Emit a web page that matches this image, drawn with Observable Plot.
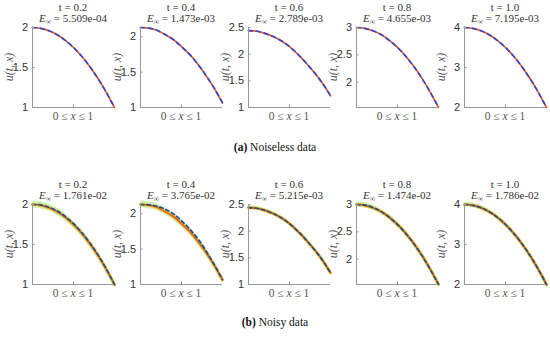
<!DOCTYPE html>
<html><head><meta charset="utf-8">
<script src="https://cdn.jsdelivr.net/npm/d3@7"></script>
<script src="https://cdn.jsdelivr.net/npm/@observablehq/plot@0.6"></script>
<style>
body{margin:0;background:#fff}
#root{position:relative;width:550px;height:337px;overflow:hidden;font-family:"Liberation Serif",serif;background:#fff}
.pl{position:absolute}
.pl svg{overflow:visible;display:block}
.tt{position:absolute;text-align:center;font-size:11px;color:#333;white-space:nowrap;transform:translate(-50%,-50%);line-height:1}
.yl{position:absolute;font-size:12px;color:#555;font-style:italic;white-space:nowrap;transform:translate(-50%,-50%) rotate(-90deg);line-height:1}
.xl{position:absolute;font-size:11.5px;color:#555;white-space:nowrap;transform:translate(-50%,-50%);line-height:1}
.cap{position:absolute;font-size:11.5px;color:#111;white-space:nowrap;transform:translate(-50%,-50%);line-height:1}
</style></head><body>
<div id="root"></div>
<script>
const xs = [0, 0.1, 0.2, 0.3, 0.4, 0.5, 0.6, 0.7, 0.8, 0.9, 1.0];
const times = ["0.2", "0.4", "0.6", "0.8", "1.0"];
const errClean = ["5.509e-04", "1.473e-03", "2.789e-03", "4.655e-03", "7.195e-03"];
const errNoisy = ["1.761e-02", "3.765e-02", "5.215e-03", "1.474e-02", "1.786e-02"];

// exact solution read at each x
const u02 = [2.00, 1.99, 1.96, 1.91, 1.84, 1.75, 1.64, 1.51, 1.36, 1.19, 1.00];
const u04 = [2.13, 2.12, 2.09, 2.03, 1.96, 1.86, 1.75, 1.61, 1.45, 1.27, 1.065];
const u06 = [2.44, 2.43, 2.39, 2.33, 2.25, 2.14, 2.00, 1.84, 1.66, 1.46, 1.22];
const u08 = [3.00, 2.985, 2.94, 2.87, 2.765, 2.635, 2.475, 2.285, 2.065, 1.815, 1.54];
const u10 = [4.00, 3.98, 3.92, 3.82, 3.68, 3.50, 3.28, 3.02, 2.72, 2.38, 2.00];

// predictions, noisy data (deviations visible in panel t = 0.4)
const p02n = [2.00, 1.995, 1.965, 1.92, 1.85, 1.76, 1.65, 1.52, 1.37, 1.195, 1.00];
const p04n = [2.13, 2.125, 2.105, 2.065, 2.00, 1.90, 1.785, 1.645, 1.475, 1.28, 1.07];
const p06n = [2.44, 2.43, 2.39, 2.33, 2.25, 2.14, 2.00, 1.84, 1.66, 1.46, 1.22];
const p08n = [3.00, 2.99, 2.945, 2.87, 2.765, 2.63, 2.47, 2.28, 2.06, 1.81, 1.54];
const p10n = [4.00, 3.98, 3.92, 3.82, 3.68, 3.50, 3.28, 3.02, 2.72, 2.38, 2.00];

// half-width of the green noise band per panel
const bandW = [0.045, 0.05, 0.035, 0.05, 0.06];

const yDomains = [[1, 2], [1, 2.13], [1, 2.5], [1.537, 3], [2, 4]];
const yTicks = [[1, 1.5, 2], [1, 1.5, 2], [1, 1.5, 2, 2.5], [2, 2.5, 3], [2, 3, 4]];

const exact = [u02, u04, u06, u08, u10];
const predNoisy = [p02n, p04n, p06n, p08n, p10n];

const root = document.getElementById("root");
const rowY = [0, 177];
const axisFont = {fontFamily: "'Liberation Sans', Arial, sans-serif", fontSize: "11px", color: "#333", background: "transparent", overflow: "visible"};

function add(cls, html, x, y) {
  const d = document.createElement("div");
  d.className = cls; d.innerHTML = html;
  d.style.left = x + "px"; d.style.top = y + "px";
  root.appendChild(d);
}

for (let r = 0; r < 2; r++) {
  for (let i = 0; i < 5; i++) {
    const y0 = rowY[r];
    const left = 6 + i * 108;
    const data = xs.map((x, k) => ({
      x, u: exact[i][k],
      p: r === 0 ? exact[i][k] : predNoisy[i][k],
      lo: exact[i][k] - bandW[i], hi: exact[i][k] + bandW[i]
    }));
    const marks = [];
    if (r === 1) {
      marks.push(Plot.areaY(data, {x: "x", y1: "lo", y2: "hi", fill: "#ccf4b8", curve: "natural"}));
      marks.push(Plot.lineY(data, {x: "x", y: "u", stroke: "#f1c232", strokeWidth: 3.2, curve: "natural"}));
    }
    marks.push(Plot.lineY(data, {x: "x", y: "u", stroke: r ? "#e0651c" : "#e4572c", strokeWidth: 1.7, curve: "natural"}));
    marks.push(Plot.lineY(data, {x: "x", y: "p", stroke: r ? "#24508c" : "#3549c6", strokeWidth: 1.7, strokeDasharray: r ? "3.5,3" : "4,4", curve: "natural"}));
    marks.push(Plot.ruleX([0], {stroke: "#999", strokeWidth: 1}));
    marks.push(Plot.ruleY([yDomains[i][0]], {stroke: "#999", strokeWidth: 1}));
    marks.push(Plot.axisY({ticks: yTicks[i], tickSize: -2.5, tickPadding: 7, stroke: "#999", label: null, tickFormat: d => String(d)}));
    marks.push(Plot.axisX({ticks: [0.5], tickSize: -2.5, stroke: "#999", label: null, tickFormat: () => ""}));
    const chart = Plot.plot({
      width: 108, height: 113,
      marginLeft: 26, marginRight: 0, marginTop: 27, marginBottom: 6,
      x: {domain: [0, 1]},
      y: {domain: yDomains[i]},
      style: axisFont,
      marks
    });
    const wrap = document.createElement("div");
    wrap.className = "pl";
    wrap.style.left = left + "px"; wrap.style.top = y0 + "px";
    wrap.appendChild(chart);
    root.appendChild(wrap);
    const cx = left + 26 + 41;
    add("tt", "t = " + times[i], cx, y0 + 6.5);
    add("tt", "<i>E</i><sub style='font-size:7.5px;vertical-align:-2px'>∞</sub> = " + (r === 0 ? errClean[i] : errNoisy[i]), cx, y0 + 18.5);
    add("yl", "u(t, x)", left + 3, y0 + 67);
    add("xl", "0 ≤ <i>x</i> ≤ 1", cx, y0 + 117);
  }
}
add("cap", "<b>(a)</b> Noiseless data", 275, 148);
add("cap", "<b>(b)</b> Noisy data", 275, 323);
</script>
</body></html>
